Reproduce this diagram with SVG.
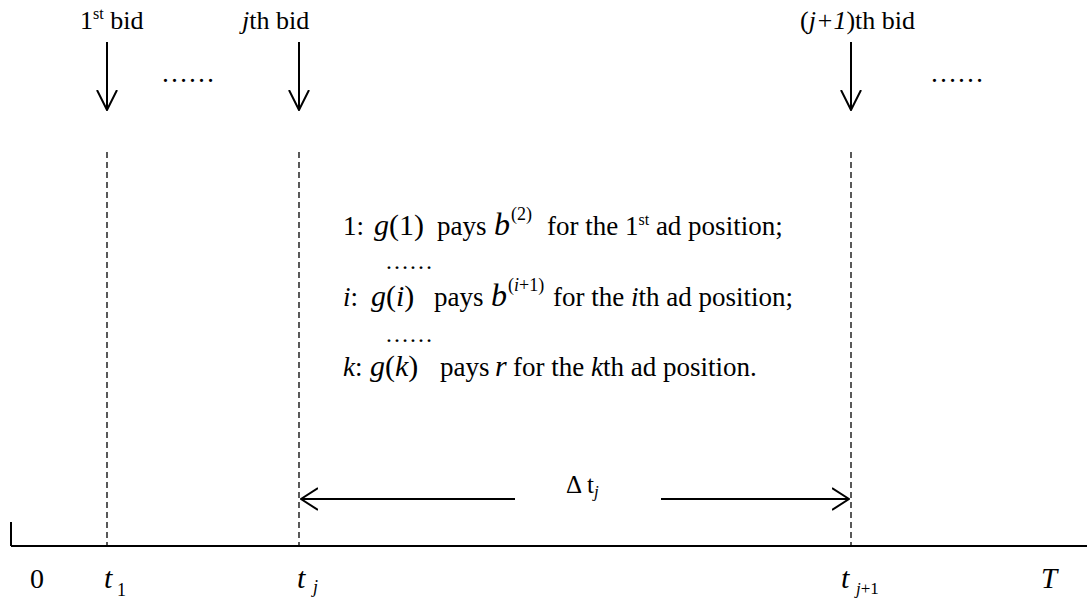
<svg xmlns="http://www.w3.org/2000/svg" width="1087" height="599" viewBox="0 0 1087 599">
<style>
text{font-family:"Liberation Serif","Times New Roman",serif;fill:#000}
.lb{font-size:26px}
.t{font-size:27px}
.m{font-size:30px}
.bb{font-size:32px;font-style:italic}
.sup{font-size:18px}
.s{font-size:16px}
.i{font-style:italic}
.dash{stroke:#000;stroke-width:1.3;stroke-dasharray:6,4;fill:none}
.ln{stroke:#000;stroke-width:2;fill:none}
</style>
<defs>
<marker id="ah" viewBox="0 0 21 22" refX="20" refY="11" markerWidth="21" markerHeight="22" markerUnits="userSpaceOnUse" orient="auto">
<path d="M0,1 L20,11 L0,21" fill="none" stroke="#000" stroke-width="2"/>
</marker>
<marker id="ah2" viewBox="0 0 18 24" refX="17" refY="12" markerWidth="18" markerHeight="24" markerUnits="userSpaceOnUse" orient="auto">
<path d="M0,1 L17,12 L0,23" fill="none" stroke="#000" stroke-width="2"/>
</marker>
</defs>
<rect width="1087" height="599" fill="#fff"/>
<g id="axis">
<line class="ln" x1="11" y1="546" x2="1087" y2="546"/>
<line class="ln" x1="11" y1="522" x2="11" y2="546"/>
<text x="30" y="588" style="font-size:28px">0</text>
<text x="1041" y="588" class="i" style="font-size:29px">T</text>
</g>
<g id="bid1">
<text class="lb" x="80" y="29">1<tspan class="s" dy="-10">st</tspan><tspan dy="10"> bid</tspan></text>
<text class="lb" x="161" y="82" style="font-size:27px">……</text>
<text class="m i" x="104" y="588">t</text><text x="117" y="596" style="font-size:18px">1</text>
</g>
<g id="bidj">
<text class="lb" x="242" y="29"><tspan class="i">j</tspan>th bid</text>
<text class="m i" x="297" y="588">t</text><text class="i" x="313" y="593" style="font-size:18px">j</text>
</g>
<g id="bidj1">
<text class="lb" x="800" y="29">(<tspan class="i">j+1</tspan>)th bid</text>
<text class="lb" x="930" y="82" style="font-size:27px">……</text>
<text class="m i" x="841" y="588">t</text><text x="856" y="594" style="font-size:17px"><tspan class="i">j</tspan>+1</text>
</g>
<g id="payments">
<text class="t" x="343" y="235">1:</text>
<text class="m" x="374" y="235"><tspan class="i">g</tspan>(1)</text>
<text class="t" x="437" y="235">pays</text>
<text class="bb" x="494" y="235">b</text>
<text class="sup" x="511" y="220">(2)</text>
<text class="t" x="547" y="235">for the 1<tspan class="s" dy="-10">st</tspan><tspan dy="10"> ad position;</tspan></text>
<text class="lb" x="385" y="269" style="font-size:24px">……</text>
<text class="t" x="343" y="306"><tspan class="i">i</tspan>:</text>
<text class="m" x="371" y="306"><tspan class="i">g</tspan>(<tspan class="i">i</tspan>)</text>
<text class="t" x="434" y="306">pays</text>
<text class="bb" x="491" y="306">b</text>
<text class="sup" x="508" y="291">(<tspan class="i">i</tspan>+1)</text>
<text class="t" x="553" y="306">for the <tspan class="i">i</tspan>th ad position;</text>
<text class="lb" x="385" y="342" style="font-size:24px">……</text>
<text class="t" x="343" y="376"><tspan class="i">k</tspan>:</text>
<text class="m" x="370" y="376"><tspan class="i">g</tspan>(<tspan class="i">k</tspan>)</text>
<text class="t" x="440" y="376">pays</text>
<text class="m i" x="495" y="376">r</text>
<text class="t" x="513" y="376">for the <tspan class="i">k</tspan>th ad position.</text>
</g>
<g id="delta">
<text x="566" y="493" style="font-size:25px">Δ t<tspan class="i" style="font-size:17px" dy="4">j</tspan></text>
</g>
<g id="connectors">
<line class="dash" x1="107" y1="152" x2="107" y2="546"/>
<line class="dash" x1="299" y1="152" x2="299" y2="546"/>
<line class="dash" x1="851" y1="152" x2="851" y2="546"/>
<line class="ln" x1="107" y1="42" x2="107" y2="110" marker-end="url(#ah)"/>
<line class="ln" x1="299" y1="42" x2="299" y2="110" marker-end="url(#ah)"/>
<line class="ln" x1="851" y1="42" x2="851" y2="110" marker-end="url(#ah)"/>
<line class="ln" x1="515" y1="499" x2="301" y2="499" marker-end="url(#ah2)"/>
<line class="ln" x1="661" y1="499" x2="849" y2="499" marker-end="url(#ah2)"/>
</g>
</svg>
